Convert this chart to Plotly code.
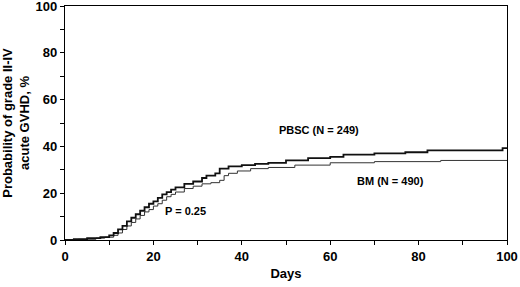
import plotly.graph_objects as go

pbsc_days = [0, 2, 5, 8, 10, 11, 12, 13, 14, 15, 16, 17, 18, 19, 20, 21, 22, 23, 24, 25, 27, 29, 31, 32, 34, 35, 37, 40, 43, 46, 50, 55, 60, 63, 70, 77, 82, 99, 100]
pbsc_prob = [0, 0.4, 0.8, 1.2, 2, 3, 4.5, 6, 8, 9.5, 11, 12.5, 14, 15.5, 16.5, 18, 19.5, 20.5, 21.5, 22.5, 24, 25, 26.5, 27.5, 28.5, 30.5, 31.5, 32, 32.5, 33, 34, 35, 35.5, 36.5, 37, 37.5, 38.3, 39.3, 39.3]

bm_days = [0, 3, 7, 9, 11, 12, 13, 14, 15, 16, 17, 18, 19, 20, 21, 22, 23, 24, 25, 27, 29, 31, 33, 35, 36, 37, 39, 42, 46, 52, 60, 70, 85, 100]
bm_prob = [0, 0.3, 0.8, 1.2, 2, 3, 4.5, 6, 7.5, 9, 10.5, 12, 13, 14.5, 15.5, 17, 18.5, 19.5, 20.5, 22, 23, 24, 24.5, 25.5, 27.5, 28.5, 29.5, 30.5, 31, 32, 33, 33.5, 34, 34]

x_ticks = [0, 20, 40, 60, 80, 100]
y_ticks = [0, 20, 40, 60, 80, 100]

FONT = "Liberation Sans, Arial, sans-serif"

fig = go.Figure()
fig.add_trace(go.Scatter(x=bm_days, y=bm_prob, mode="lines", line_shape="hv",
                         line=dict(color="#333333", width=1), name="BM"))
fig.add_trace(go.Scatter(x=pbsc_days, y=pbsc_prob, mode="lines", line_shape="hv",
                         line=dict(color="#111111", width=1.8), name="PBSC"))

ann_font = dict(family=FONT, size=11, color="black")
fig.add_annotation(x=57.5, y=47.1, text="<b>PBSC (N = 249)</b>", showarrow=False, font=ann_font)
fig.add_annotation(x=73.6, y=25.4, text="<b>BM (N = 490)</b>", showarrow=False, font=ann_font)
fig.add_annotation(x=27.2, y=12.2, text="<b>P = 0.25</b>", showarrow=False, font=ann_font)

axis_common = dict(showline=True, linecolor="black", linewidth=1.2, mirror=True,
                   ticks="outside", ticklen=4, tickcolor="black", tickwidth=1,
                   showgrid=False, zeroline=False, ticklabeloverflow="allow",
                   minor=dict(dtick=10, ticks="outside", ticklen=4, tickcolor="black", showgrid=False),
                   tickfont=dict(family=FONT, size=13, color="black"))

fig.update_layout(
    width=520, height=287,
    margin=dict(l=65, r=13, t=6, b=46.5, autoexpand=False),
    paper_bgcolor="white", plot_bgcolor="white",
    showlegend=False,
    xaxis=dict(range=[0, 100], tickvals=x_ticks, ticktext=[f"<b>{v}</b>" for v in x_ticks],
               title=dict(text="<b>Days</b>", font=dict(family=FONT, size=13, color="black"), standoff=6),
               **axis_common),
    yaxis=dict(range=[0, 100], tickvals=y_ticks, ticktext=[f"<b>{v}</b>" for v in y_ticks],
               title=dict(text="<b>Probability of grade II-IV<br>acute GVHD, %</b>",
                          font=dict(family=FONT, size=13, color="black"), standoff=8),
               **axis_common),
)

fig.write_html("out.html", config={"displayModeBar": False},
               post_script="document.body.style.margin='0';")
